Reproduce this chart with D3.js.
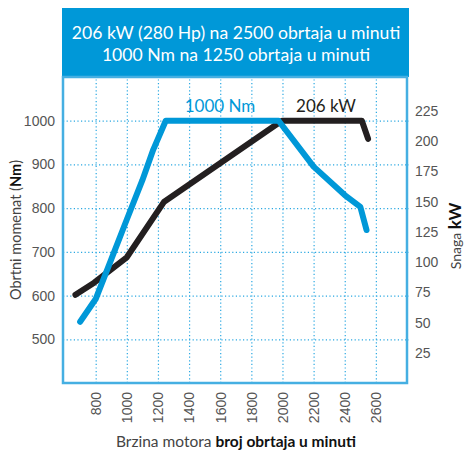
<!DOCTYPE html>
<html>
<head>
<meta charset="utf-8">
<script src="https://cdn.jsdelivr.net/npm/d3@7"></script>
<style>
  body { margin: 0; background: #fff; }
  svg { display: block; font-family: Lato, "Open Sans", sans-serif; }
  .tick text { fill: #555; font-size: 14px; }
  .grid line { stroke: #2aa8e2; stroke-width: 1.2; stroke-dasharray: 1.2 2.4; }
  .domain { display: none; }
</style>
</head>
<body>
<div id="chart"></div>
<script>
// rpm ticks and axis ticks
var rpmTicks = [800, 1000, 1200, 1400, 1600, 1800, 2000, 2200, 2400, 2600];
var torqueTicks = [500, 600, 700, 800, 900, 1000];
var powerTicks = [25, 50, 75, 100, 125, 150, 175, 200, 225];

// torque curve (Nm)
var torqueRpm = [700, 800, 900, 1000, 1100, 1170, 1250, 1975, 2200, 2400, 2500, 2540];
var torqueNm  = [540, 592, 683, 774, 864, 934, 1000, 1000, 895, 830, 803, 750];

// power curve (kW)
var powerRpm = [670, 790, 1000, 1240, 1975, 2000, 2510, 2550];
var powerKw  = [73, 83, 104, 150, 215, 217, 217, 202];

var titleLines = ["206 kW (280 Hp) na 2500 obrtaja u minuti", "1000 Nm na 1250 obrtaja u minuti"];

var blue = "#0098d8", black = "#231f20";
var W = 465, H = 453;
var plot = { left: 63, right: 407, top: 77, bottom: 383 };

var svg = d3.select("#chart").append("svg")
    .attr("width", W).attr("height", H);

// header
svg.append("rect")
    .attr("x", 62).attr("y", 8).attr("width", 347).attr("height", 69)
    .attr("fill", blue);
svg.selectAll(".title").data(titleLines).enter().append("text")
    .attr("x", 236).attr("y", function (d, i) { return 39 + i * 21.5; })
    .attr("text-anchor", "middle")
    .attr("fill", "#fff").attr("font-size", 17.6)
    .text(function (d) { return d; });

var x = d3.scaleLinear().domain([590, 2800]).range([plot.left, plot.right]);
var yT = d3.scaleLinear().domain([400, 1100]).range([plot.bottom, plot.top]);
var yP = d3.scaleLinear().domain([0, 225]).range([plot.bottom, 111]);

// grid
svg.append("g").attr("class", "grid")
    .attr("transform", "translate(0," + plot.bottom + ")")
    .call(d3.axisBottom(x).tickValues(rpmTicks).tickSize(-(plot.bottom - plot.top)).tickFormat(""));
svg.append("g").attr("class", "grid")
    .attr("transform", "translate(" + plot.left + ",0)")
    .call(d3.axisLeft(yT).tickValues(torqueTicks).tickSize(-(plot.right - plot.left + 2)).tickFormat(""));

// frame
svg.append("rect")
    .attr("x", plot.left).attr("y", plot.top)
    .attr("width", plot.right - plot.left).attr("height", plot.bottom - plot.top)
    .attr("fill", "none").attr("stroke", "#45afe2").attr("stroke-width", 2.5);

// axes labels
svg.append("g")
    .attr("transform", "translate(" + (plot.left - 5) + ",0)")
    .call(d3.axisLeft(yT).tickValues(torqueTicks).tickSize(0).tickFormat(d3.format("d")));
svg.append("g")
    .attr("transform", "translate(" + (plot.right + 5) + ",0)")
    .call(d3.axisRight(yP).tickValues(powerTicks).tickSize(0));
var xa = svg.append("g")
    .attr("transform", "translate(0," + (plot.bottom + 9) + ")")
    .call(d3.axisBottom(x).tickValues(rpmTicks).tickSize(0).tickFormat(d3.format("d")));
xa.selectAll("text")
    .attr("transform", "rotate(-90)")
    .attr("text-anchor", "end")
    .attr("x", 0).attr("y", 0).attr("dy", "0.35em");

// axis titles
var lt = svg.append("text")
    .attr("transform", "translate(21,230) rotate(-90)")
    .attr("text-anchor", "middle").attr("font-size", 14.5).attr("fill", "#444");
lt.append("tspan").text("Obrtni momenat (");
lt.append("tspan").attr("font-weight", "bold").attr("fill", "#111").text("Nm");
lt.append("tspan").text(")");

var rt = svg.append("text")
    .attr("transform", "translate(461,236) rotate(-90)")
    .attr("text-anchor", "middle").attr("fill", "#444");
rt.append("tspan").attr("font-size", 14).text("Snaga ");
rt.append("tspan").attr("font-size", 17).attr("font-weight", "bold").attr("fill", "#111").text("kW");

var bt = svg.append("text")
    .attr("x", 236).attr("y", 447)
    .attr("text-anchor", "middle").attr("font-size", 15.5).attr("fill", "#444");
bt.append("tspan").text("Brzina motora ");
bt.append("tspan").attr("font-weight", "bold").attr("fill", "#111").text("broj obrtaja u minuti");

// lines
var torqueLine = d3.line()
    .x(function (d, i) { return x(torqueRpm[i]); })
    .y(function (d) { return yT(d); });
var powerLine = d3.line()
    .x(function (d, i) { return x(powerRpm[i]); })
    .y(function (d) { return yP(d); });

svg.append("path").datum(powerKw)
    .attr("d", powerLine)
    .attr("fill", "none").attr("stroke", black).attr("stroke-width", 6)
    .attr("stroke-linecap", "round").attr("stroke-linejoin", "round");
svg.append("path").datum(torqueNm)
    .attr("d", torqueLine)
    .attr("fill", "none").attr("stroke", blue).attr("stroke-width", 6)
    .attr("stroke-linecap", "round").attr("stroke-linejoin", "round");

// series labels
svg.append("text").attr("x", 220).attr("y", 112).attr("text-anchor", "middle")
    .attr("font-size", 17).attr("fill", blue).text("1000 Nm");
svg.append("text").attr("x", 326).attr("y", 112).attr("text-anchor", "middle")
    .attr("font-size", 17).attr("fill", black).text("206 kW");
</script>
</body>
</html>
